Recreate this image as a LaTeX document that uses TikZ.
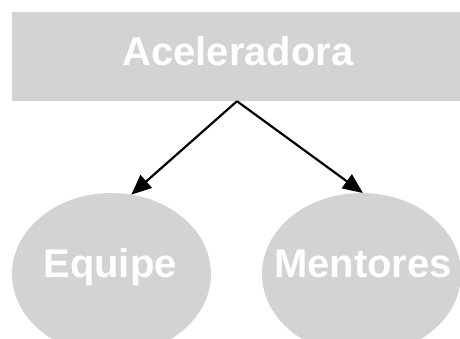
\documentclass[tikz,border=0pt]{standalone}
\usepackage{fontspec}
\setmainfont{Liberation Sans}
\usetikzlibrary{shapes.geometric,arrows.meta}
\definecolor{boxgray}{RGB}{211,211,211}
\tikzset{
  boxnode/.style={rectangle, fill=boxgray, draw=none, inner sep=0pt,
    minimum width=450pt, minimum height=89pt},
  ovalnode/.style={ellipse, fill=boxgray, draw=none, inner sep=0pt, outer sep=0pt,
    minimum width=199pt, minimum height=162pt},
  labeltext/.style={text=white, inner sep=0pt, anchor=base,
    font=\fontsize{40}{41}\selectfont\bfseries},
  link/.style={draw=black, line width=2.2pt,
    -{Triangle[length=20pt,width=17pt]}}
}
\begin{document}
\begin{tikzpicture}[x=1pt,y=-1pt]
  \useasboundingbox (0,0) rectangle (460,338);
  \clip (0,0) rectangle (460,338);
  \fill[white] (0,0) rectangle (460,338);

  % top box and the two ovals
  \node[boxnode] (acc) at (237,56.5) {};
  \node[ovalnode] (eq) at (111.5,274) {};
  \node[ovalnode] (mt) at (361.5,274) {};

  % captions
  \node[labeltext] (acctext) at (238,65) {Aceleradora};
  \node[labeltext] (eqtext) at (110,277) {Equipe};
  \node[labeltext] (mttext) at (363,277) {Mentores};

  % connectors
  \draw[link] (acc.south) -- (eq.76);
  \draw[link] (acc.south) -- (mt.89);
\end{tikzpicture}
\end{document}
